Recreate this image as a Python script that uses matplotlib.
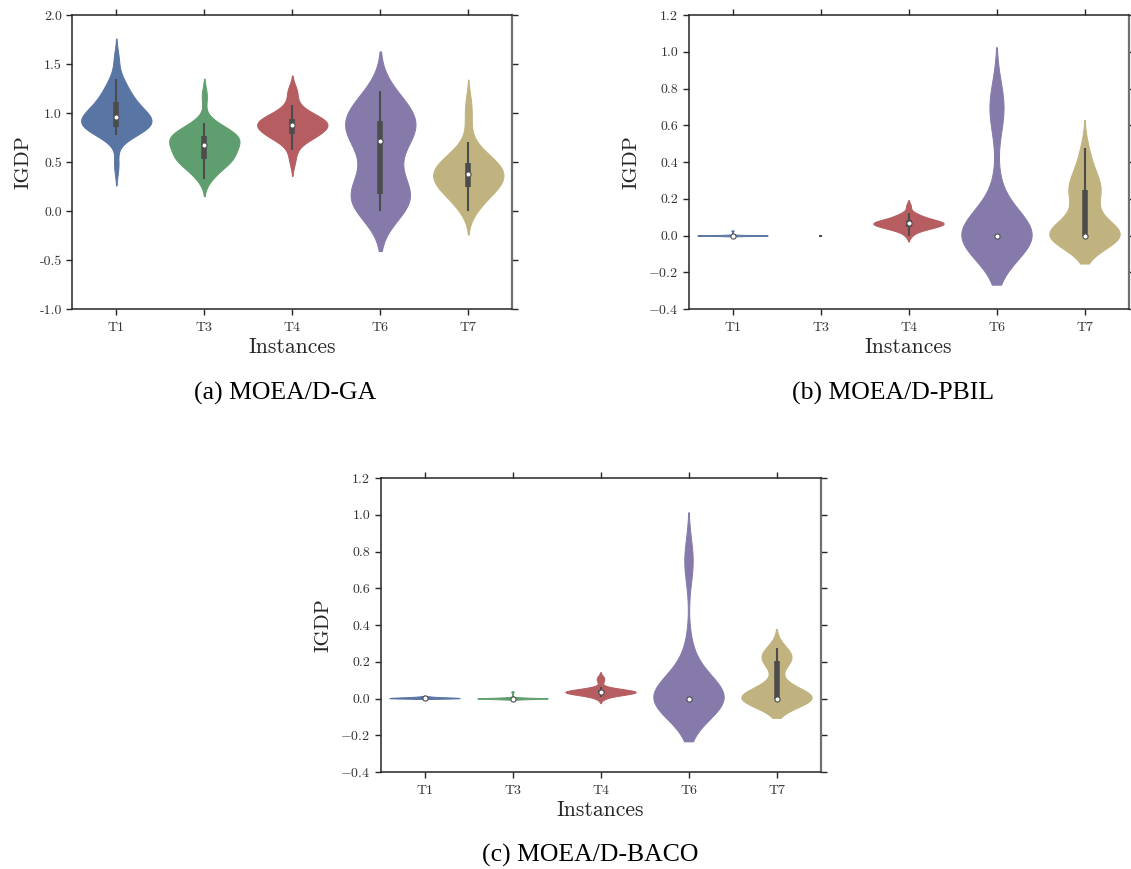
import colorsys

import numpy as np
import matplotlib
matplotlib.use("Agg")
import matplotlib.pyplot as plt
from matplotlib.colors import to_rgb, to_hex
from matplotlib.ticker import FixedLocator, FixedFormatter

# ---------------------------------------------------------------- data
instances = ["T1", "T3", "T4", "T6", "T7"]
base_colors = ["#4C72B0", "#55A868", "#C44E52", "#8172B2", "#CCB974"]

# IGDP over 30 runs, MOEA/D-GA
ga_T1 = [0.47, 0.78, 0.80, 0.82, 0.84, 0.85, 0.85, 0.855, 0.86, 0.88,
         0.90, 0.91, 0.93, 0.94, 0.95, 0.97, 0.98, 0.99, 1.00, 1.02,
         1.05, 1.10, 1.11, 1.13, 1.16, 1.20, 1.25, 1.30, 1.35, 1.55]
ga_T3 = [0.33, 0.38, 0.42, 0.46, 0.49, 0.51, 0.52, 0.53, 0.54, 0.56,
         0.58, 0.60, 0.62, 0.64, 0.66, 0.69, 0.70, 0.71, 0.72, 0.73,
         0.74, 0.76, 0.77, 0.78, 0.80, 0.82, 0.84, 0.87, 0.90, 1.17]
ga_T4 = [0.51, 0.62, 0.70, 0.74, 0.76, 0.77, 0.78, 0.78, 0.79, 0.81,
         0.83, 0.85, 0.86, 0.87, 0.88, 0.885, 0.89, 0.90, 0.91, 0.92,
         0.93, 0.93, 0.94, 0.96, 0.98, 1.00, 1.04, 1.08, 1.20, 1.23]
ga_T6 = [0.00, 0.00, 0.03, 0.07, 0.10, 0.12, 0.15, 0.165, 0.19, 0.24,
         0.30, 0.38, 0.46, 0.56, 0.68, 0.74, 0.76, 0.79, 0.81, 0.83,
         0.86, 0.90, 0.92, 0.95, 0.98, 1.02, 1.06, 1.11, 1.16, 1.22]
ga_T7 = [0.00, 0.05, 0.10, 0.14, 0.18, 0.21, 0.23, 0.24, 0.25, 0.27,
         0.29, 0.31, 0.33, 0.35, 0.37, 0.39, 0.40, 0.41, 0.43, 0.44,
         0.46, 0.48, 0.49, 0.52, 0.55, 0.58, 0.62, 0.70, 0.92, 1.10]

# IGDP over 30 runs, MOEA/D-PBIL
pbil_T1 = [0.0, 0.0, 0.0, 0.0, 0.0, 0.0, 0.0, 0.0, 0.0, 0.0,
           0.0, 0.0, 0.0, 0.0, 0.0, 0.0, 0.0, 0.0, 0.0, 0.0,
           0.0, 0.0, 0.0, 0.0, 0.0, 0.0, 0.0, 0.0, 0.0, 0.025]
pbil_T3 = [0.0, 0.0, 0.0, 0.0, 0.0, 0.0, 0.0, 0.0, 0.0, 0.0,
           0.0, 0.0, 0.0, 0.0, 0.0, 0.0, 0.0, 0.0, 0.0, 0.0,
           0.0, 0.0, 0.0, 0.0, 0.0, 0.0, 0.0, 0.0, 0.0, 0.0]
pbil_T4 = [0.00, 0.02, 0.03, 0.035, 0.04, 0.042, 0.045, 0.048, 0.05, 0.055,
           0.06, 0.06, 0.062, 0.065, 0.066, 0.068, 0.07, 0.07, 0.072, 0.075,
           0.078, 0.08, 0.085, 0.09, 0.095, 0.10, 0.105, 0.115, 0.122, 0.16]
pbil_T6 = [0.0, 0.0, 0.0, 0.0, 0.0, 0.0, 0.0, 0.0, 0.0, 0.0,
           0.0, 0.0, 0.0, 0.0, 0.0, 0.0, 0.0, 0.0, 0.0, 0.0,
           0.0, 0.0, 0.0, 0.18, 0.28, 0.62, 0.67, 0.70, 0.73, 0.757]
pbil_T7 = [0.0, 0.0, 0.0, 0.0, 0.0, 0.0, 0.0, 0.0, 0.0, 0.0,
           0.0, 0.0, 0.0, 0.0, 0.0, 0.0, 0.05, 0.10, 0.14, 0.18,
           0.21, 0.24, 0.25, 0.26, 0.27, 0.29, 0.32, 0.36, 0.41, 0.476]

# IGDP over 30 runs, MOEA/D-BACO
baco_T1 = [0.0, 0.0, 0.0, 0.0, 0.0, 0.0, 0.0, 0.001, 0.001, 0.002,
           0.002, 0.002, 0.003, 0.003, 0.003, 0.003, 0.004, 0.004, 0.004, 0.005,
           0.005, 0.005, 0.006, 0.006, 0.007, 0.007, 0.008, 0.009, 0.010, 0.012]
baco_T3 = [0.0, 0.0, 0.0, 0.0, 0.0, 0.0, 0.0, 0.0, 0.0, 0.0,
           0.0, 0.0, 0.0, 0.0, 0.0, 0.0, 0.0, 0.0, 0.0, 0.0,
           0.0, 0.0, 0.0, 0.0, 0.001, 0.002, 0.003, 0.004, 0.006, 0.035]
baco_T4 = [0.00, 0.01, 0.015, 0.02, 0.022, 0.025, 0.027, 0.028, 0.03, 0.03,
           0.032, 0.033, 0.034, 0.035, 0.035, 0.036, 0.037, 0.038, 0.04, 0.041,
           0.042, 0.044, 0.046, 0.048, 0.05, 0.055, 0.06, 0.09, 0.105, 0.118]
baco_T6 = [0.0, 0.0, 0.0, 0.0, 0.0, 0.0, 0.0, 0.0, 0.0, 0.0,
           0.0, 0.0, 0.0, 0.0, 0.0, 0.0, 0.0, 0.0, 0.0, 0.0,
           0.0, 0.0, 0.0, 0.08, 0.15, 0.20, 0.26, 0.72, 0.75, 0.78]
baco_T7 = [0.0, 0.0, 0.0, 0.0, 0.0, 0.0, 0.0, 0.0, 0.0, 0.0,
           0.0, 0.0, 0.0, 0.0, 0.0, 0.0, 0.01, 0.02, 0.04, 0.06,
           0.10, 0.19, 0.21, 0.215, 0.22, 0.225, 0.23, 0.24, 0.25, 0.273]

ga_ticks = [-1.0, -0.5, 0.0, 0.5, 1.0, 1.5, 2.0]
ga_ticklabels = ["-1.0", "-0.5", "0.0", "0.5", "1.0", "1.5", "2.0"]
small_ticks = [-0.4, -0.2, 0.0, 0.2, 0.4, 0.6, 0.8, 1.0, 1.2]
small_ticklabels = [r"$-0.4$", r"$-0.2$", "0.0", "0.2", "0.4", "0.6", "0.8", "1.0", "1.2"]

panels = [
    dict(series=[ga_T1, ga_T3, ga_T4, ga_T6, ga_T7], ylim=(-1.0, 2.0),
         ticks=ga_ticks, labels=ga_ticklabels, caption="(a) MOEA/D-GA"),
    dict(series=[pbil_T1, pbil_T3, pbil_T4, pbil_T6, pbil_T7], ylim=(-0.4, 1.2),
         ticks=small_ticks, labels=small_ticklabels, caption="(b) MOEA/D-PBIL"),
    dict(series=[baco_T1, baco_T3, baco_T4, baco_T6, baco_T7], ylim=(-0.4, 1.2),
         ticks=small_ticks, labels=small_ticklabels, caption="(c) MOEA/D-BACO"),
]

# ---------------------------------------------------------------- style
plt.rcParams["font.family"] = ["cmr10"]
plt.rcParams["mathtext.fontset"] = "cm"
plt.rcParams["axes.formatter.use_mathtext"] = True
plt.rcParams["axes.unicode_minus"] = False


def desaturate(color, prop=0.75):
    h, l, s = colorsys.rgb_to_hls(*to_rgb(color))
    return colorsys.hls_to_rgb(h, l, s * prop)


colors = [desaturate(c) for c in base_colors]
lum = min(colorsys.rgb_to_hls(*c)[1] for c in colors) * 0.6
gray = to_hex((lum, lum, lum))


def violin(ax, pos, values, color, width=0.8, cut=2, gridsize=100):
    data = np.asarray(values, dtype=float)
    if np.ptp(data) == 0:
        ax.plot([pos - 0.022, pos + 0.022], [data[0], data[0]], color=gray,
                lw=1.5, solid_capstyle="butt", zorder=2)
        return
    bw = data.std(ddof=1) * data.size ** (-1.0 / 5)
    support = np.linspace(data.min() - cut * bw, data.max() + cut * bw, gridsize)
    dens = np.exp(-0.5 * ((support[:, None] - data[None, :]) / bw) ** 2).sum(axis=1)
    dens = dens / dens.max() * width / 2
    ax.fill_betweenx(support, pos - dens, pos + dens, facecolor=color,
                     edgecolor=color, lw=0.7, zorder=1)
    q25, q50, q75 = np.percentile(data, [25, 50, 75])
    lim = 1.5 * (q75 - q25)
    lo = data[data >= q25 - lim].min()
    hi = data[data <= q75 + lim].max()
    if hi > lo:
        ax.plot([pos, pos], [lo, hi], color=gray, lw=1.5,
                solid_capstyle="butt", zorder=2)
    if q75 > q25:
        ax.plot([pos, pos], [q25, q75], color=gray, lw=4.0,
                solid_capstyle="butt", zorder=2)
    ax.scatter([pos], [q50], s=14, color="white", edgecolor=gray,
               linewidth=0.8, zorder=3)


fig = plt.figure(figsize=(11.31, 8.69), dpi=100)
W, H = 1131.0, 869.0
boxes = [(72.3, 15.0), (688.5, 15.0), (380.5, 478.0)]
ax_w, ax_h = 440.0, 294.0
caption_pos = [(285, 393), (893, 393), (590, 855)]

for panel, (x0, y0), (cx, cy) in zip(panels, boxes, caption_pos):
    ax = fig.add_axes([x0 / W, 1 - (y0 + ax_h) / H, ax_w / W, ax_h / H])
    for i, (vals, col) in enumerate(zip(panel["series"], colors)):
        violin(ax, i, vals, col)
    ax.set_xlim(-0.5, len(instances) - 0.5)
    ax.set_ylim(*panel["ylim"])
    ax.xaxis.set_major_locator(FixedLocator(range(len(instances))))
    ax.xaxis.set_major_formatter(FixedFormatter(instances))
    ax.yaxis.set_major_locator(FixedLocator(panel["ticks"]))
    ax.yaxis.set_major_formatter(FixedFormatter(panel["labels"]))
    ax.tick_params(axis="both", which="major", direction="out", length=4,
                   width=1, color="#262626", labelsize=10, labelcolor="#333333",
                   top=True, right=True, labeltop=False, labelright=False)
    ax.tick_params(axis="x", pad=5.5)
    for side in ["left", "bottom", "top"]:
        ax.spines[side].set_color("#262626")
        ax.spines[side].set_linewidth(1.1)
    ax.spines["right"].set_color("#707070")
    ax.spines["right"].set_linewidth(1.6)
    ax.set_xlabel("Instances", fontsize=15.5, color="#262626", labelpad=2.5)
    ax.set_ylabel("IGDP", fontsize=15, color="#262626", labelpad=5)
    fig.text(cx / W, 1 - cy / H, panel["caption"], ha="center", va="center",
             fontsize=18.5, family="Liberation Serif", color="black")

fig.savefig("out.png", dpi=100)
